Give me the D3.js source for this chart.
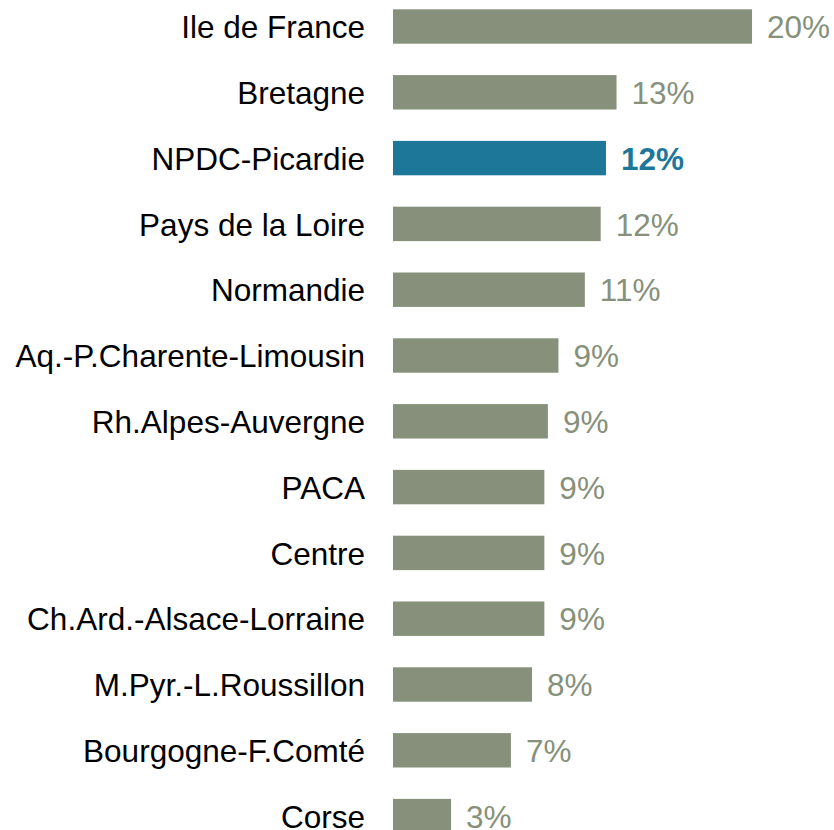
<!DOCTYPE html>
<html>
<head>
<meta charset="utf-8">
<script src="https://cdn.jsdelivr.net/npm/d3@7"></script>
<style>
  body { margin: 0; background: #fff; }
  svg { display: block; font-family: "Liberation Sans", Arial, Helvetica, sans-serif; }
</style>
</head>
<body>
<div id="chart"></div>
<script>
// regions, sorted as in the picture
var regions = ["Ile de France", "Bretagne", "NPDC-Picardie", "Pays de la Loire", "Normandie",
  "Aq.-P.Charente-Limousin", "Rh.Alpes-Auvergne", "PACA", "Centre", "Ch.Ard.-Alsace-Lorraine",
  "M.Pyr.-L.Roussillon", "Bourgogne-F.Comté", "Corse"];
// share in percent
var shares = [20.4, 12.7, 12.1, 11.8, 10.9, 9.4, 8.8, 8.6, 8.6, 8.6, 7.9, 6.7, 3.3];
var highlighted = ["NPDC-Picardie"];

var data = regions.map(function(r, i) { return {region: r, value: shares[i]}; });

var width = 834, height = 830;
var barLeft = 393;
var step = 65.8, pad = 0.477;

var svg = d3.select("#chart").append("svg")
    .attr("width", width)
    .attr("height", height);

var x = d3.scaleLinear().domain([0, 1]).range([0, 17.6]);
var y = d3.scaleBand()
    .domain(regions)
    .range([-6.4, -6.4 + regions.length * step])
    .paddingInner(pad)
    .paddingOuter(pad / 2);

var colorOf = function(d) { return highlighted.indexOf(d.region) >= 0 ? "#1d7799" : "#86907a"; };

// bars
svg.selectAll("rect.bar")
    .data(data)
  .enter().append("rect")
    .attr("class", "bar")
    .attr("x", barLeft)
    .attr("y", function(d) { return y(d.region); })
    .attr("width", function(d) { return x(d.value); })
    .attr("height", y.bandwidth())
    .attr("fill", colorOf);

// category labels
svg.selectAll("text.cat")
    .data(data)
  .enter().append("text")
    .attr("class", "cat")
    .attr("x", 365)
    .attr("y", function(d) { return y(d.region) + y.bandwidth() / 2; })
    .attr("dy", "0.37em")
    .attr("text-anchor", "end")
    .attr("font-size", 31.5)
    .attr("fill", "#000")
    .text(function(d) { return d.region; });

// value labels
svg.selectAll("text.val")
    .data(data)
  .enter().append("text")
    .attr("class", "val")
    .attr("x", function(d) { return barLeft + x(d.value) + 15; })
    .attr("y", function(d) { return y(d.region) + y.bandwidth() / 2; })
    .attr("dy", "0.37em")
    .attr("font-size", 31.5)
    .attr("font-weight", function(d) { return highlighted.indexOf(d.region) >= 0 ? "bold" : "normal"; })
    .attr("fill", colorOf)
    .text(function(d) { return Math.round(d.value) + "%"; });
</script>
</body>
</html>
